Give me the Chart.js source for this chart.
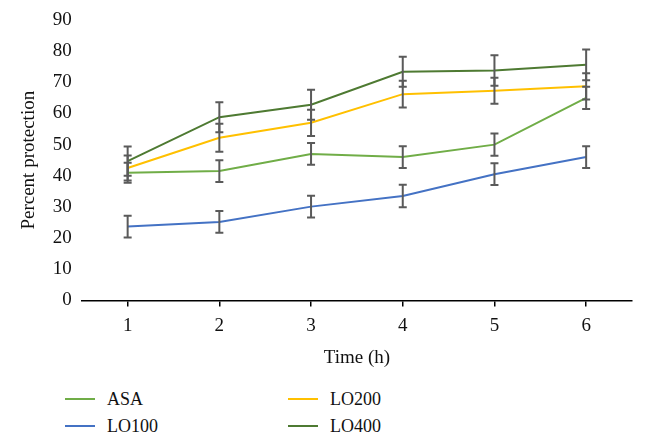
<!DOCTYPE html>
<html>
<head>
<meta charset="utf-8">
<script src="https://cdn.jsdelivr.net/npm/chart.js@4.4.1/dist/chart.umd.min.js"></script>
<style>
  html, body { margin: 0; padding: 0; background: #fff; }
  #wrap { position: relative; width: 646px; height: 447px; overflow: hidden; }
  #box { position: absolute; left: 0; top: 0; width: 646px; height: 373px; }
  #legend { position: absolute; left: 0; top: 385px; width: 646px; height: 60px;
            font-family: "Liberation Serif", "DejaVu Serif", serif; font-size: 18px; color: #111; }
  .item { position: absolute; height: 20px; line-height: 20px; }
  .item span.swatch { position: absolute; left: 0; top: 9px; width: 30px; height: 2px; }
  .item span.text { position: absolute; left: 42px; top: 0; white-space: nowrap; }
</style>
</head>
<body>
<div id="wrap">
  <div id="box"><canvas id="chart"></canvas></div>
  <div id="legend"></div>
</div>
<script>
//
// Data
const TIME_LABELS = ['1', '2', '3', '4', '5', '6'];
const SERIES_NAMES = ['ASA', 'LO100', 'LO200', 'LO400'];
const ASA = [41, 41.5, 47, 46, 50, 65];
const ASA_ERR = [3.2, 3.5, 3.5, 3.5, 3.6, 3.6];
const LO100 = [23.7, 25.2, 30.1, 33.5, 40.5, 46];
const LO100_ERR = [3.5, 3.5, 3.5, 3.6, 3.5, 3.5];
const LO200 = [42.5, 52.2, 57, 66.2, 67.3, 68.7];
const LO200_ERR = [4, 4.5, 4.2, 4.3, 4.2, 4.2];
const LO400 = [44.7, 58.8, 62.8, 73.4, 73.8, 75.6];
const LO400_ERR = [4.7, 4.8, 4.8, 4.8, 4.9, 4.9];
const COLORS = ['#70ad47', '#4472c4', '#ffc000', '#4e7a32'];
const Y_TICKS = [0, 10, 20, 30, 40, 50, 60, 70, 80, 90];

const FONT = 'Liberation Serif';

//
// Error bars drawn through the chart scales
const errorBars = {
  id: 'errorBars',
  afterDatasetsDraw(chart) {
    const ctx = chart.ctx;
    const x = chart.scales.x;
    const y = chart.scales.y;
    ctx.save();
    ctx.strokeStyle = '#5a5a5a';
    ctx.lineWidth = 2;
    chart.data.datasets.forEach(ds => {
      ds.data.forEach((v, i) => {
        const e = ds.errors[i];
        const px = x.getPixelForValue(i);
        const top = y.getPixelForValue(v + e);
        const bot = y.getPixelForValue(v - e);
        ctx.beginPath();
        ctx.moveTo(px, top); ctx.lineTo(px, bot);
        ctx.moveTo(px - 4, top); ctx.lineTo(px + 4, top);
        ctx.moveTo(px - 4, bot); ctx.lineTo(px + 4, bot);
        ctx.stroke();
      });
    });
    ctx.restore();
  }
};

const values = [ASA, LO100, LO200, LO400];
const errors = [ASA_ERR, LO100_ERR, LO200_ERR, LO400_ERR];

let datasets = SERIES_NAMES.map((name, k) => ({
  label: name,
  data: values[k],
  errors: errors[k],
  borderColor: COLORS[k],
  backgroundColor: COLORS[k],
  borderWidth: 2,
  pointRadius: 0,
  tension: 0,
  fill: false
}));

new Chart(document.getElementById('chart').getContext('2d'), {
  type: 'line',
  data: { labels: TIME_LABELS, datasets: datasets },
  plugins: [errorBars],
  options: {
    responsive: true,
    maintainAspectRatio: false,
    animation: false,
    layout: { padding: { top: 20, right: 14, left: 14, bottom: 0 } },
    plugins: {
      legend: { display: false },
      tooltip: { enabled: false }
    },
    scales: {
      x: {
        offset: true,
        grid: { display: true, drawOnChartArea: false, drawTicks: true, tickLength: 6, color: '#000', lineWidth: 1.5 },
        border: { display: true, color: '#000', width: 1.5 },
        ticks: { color: '#111', font: { family: FONT, size: 19 }, padding: 8 },
        title: { display: true, text: 'Time (h)', color: '#111', font: { family: FONT, size: 19 }, padding: { top: 1 } }
      },
      y: {
        min: 0,
        max: 90,
        afterBuildTicks: axis => { axis.ticks = Y_TICKS.map(v => ({ value: v })); },
        grid: { display: false },
        border: { display: false },
        ticks: { color: '#111', font: { family: FONT, size: 19 }, padding: 2 },
        title: { display: true, text: 'Percent protection', color: '#111', font: { family: FONT, size: 19 }, padding: { bottom: 10 } }
      }
    }
  }
});

//
// Legend in two columns
const legend = document.getElementById('legend');
const slots = [[65, 4], [65, 31], [288, 4], [288, 31]];
SERIES_NAMES.forEach((name, k) => {
  const item = document.createElement('div');
  item.className = 'item';
  item.style.left = slots[k][0] + 'px';
  item.style.top = slots[k][1] + 'px';
  item.innerHTML = '<span class="swatch" style="background:' + COLORS[k] + '"></span><span class="text">' + name + '</span>';
  legend.appendChild(item);
});
</script>
</body>
</html>
